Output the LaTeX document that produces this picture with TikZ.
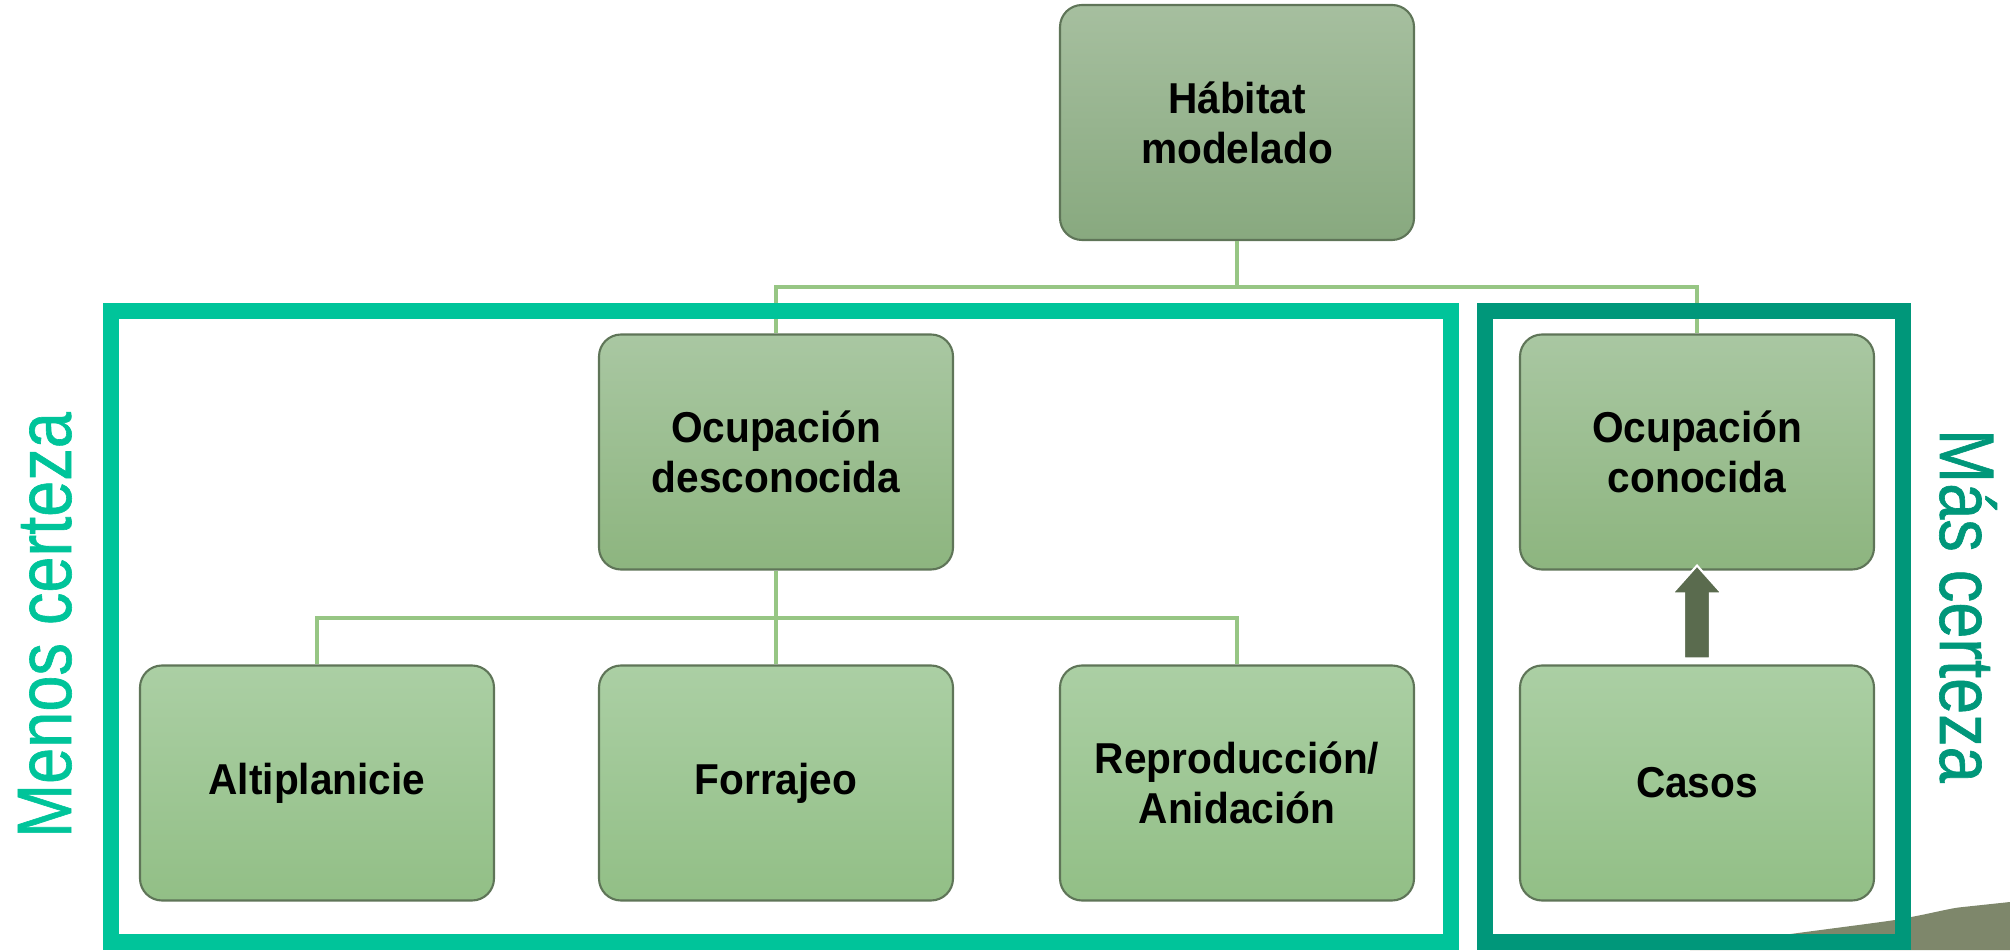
\documentclass[tikz,border=0pt]{standalone}
\usepackage{fontspec}
\setmainfont{Liberation Sans}[FakeStretch=0.94]
\newfontfamily\sidefont{Liberation Sans}[FakeStretch=0.84, FakeBold=0.8]
\usetikzlibrary{calc}

\definecolor{menos}{HTML}{00C49A}
\definecolor{mas}{HTML}{00977A}
\definecolor{boxline}{HTML}{5F7558}
\definecolor{linkc}{HTML}{97C684}
\definecolor{arrowc}{HTML}{5A6B4E}
\definecolor{swoosh}{HTML}{7E876B}

\tikzset{
  box/.style={draw=boxline, line width=0.6pt, rounded corners=0.22cm,
    minimum width=3.54cm, minimum height=2.35cm, align=center,
    font=\fontsize{12.3}{14.2}\selectfont\bfseries},
  link/.style={draw=linkc, line width=0.9pt},
  side/.style={anchor=base, font=\sidefont\fontsize{22}{26}\selectfont},
}

\begin{document}
\begin{tikzpicture}
% coordinates
\useasboundingbox (0,0) rectangle (20.1,9.5);
\coordinate (LSW) at (1.11,0.08);
\coordinate (LNE) at (14.51,6.39);
\coordinate (RSW) at (14.85,0.08);
\coordinate (RNE) at (19.03,6.39);
\coordinate (bus1) at (0,6.63);
\coordinate (bus2) at (0,3.32);

% swoosh
\fill[swoosh] (16.9,0) .. controls (17.5,0.12) and (18.4,0.22) .. (18.95,0.30)
  .. controls (19.3,0.36) and (19.5,0.42) .. (19.63,0.43) -- (20.1,0.48) -- (20.1,0) -- cycle;

% boxes
\begin{scope}[every node/.style={box}]
\node[top color={rgb,255:red,166;green,191;blue,159}, bottom color={rgb,255:red,136;green,169;blue,127}]
  (hab) at (12.37,8.275) {Hábitat\\modelado};
\begin{scope}[every node/.append style={top color={rgb,255:red,169;green,199;blue,162}, bottom color={rgb,255:red,141;green,181;blue,127}}]
\node (desc) at (7.76,4.98) {Ocupación\\desconocida};
\node (con) at (16.97,4.98) {Ocupación\\conocida};
\end{scope}
\begin{scope}[every node/.append style={top color={rgb,255:red,171;green,207;blue,164}, bottom color={rgb,255:red,146;green,191;blue,134}}]
\node (alt) at (3.17,1.67) {Altiplanicie};
\node (forr) at (7.76,1.67) {Forrajeo};
\node (rep) at (12.37,1.67) {Reproducción/\\Anidación};
\node (cas) at (16.97,1.67) {Casos};
\end{scope}
\end{scope}

% links
\draw[link] (hab.south) -- (hab.south|-bus1) -| (desc.north);
\draw[link] (hab.south|-bus1) -| (con.north);
\draw[link] (desc.south) -- (desc.south|-bus2) -| (alt.north);
\draw[link] (desc.south|-bus2) -- (forr.north);
\draw[link] (desc.south|-bus2) -| (rep.north);

% frames
\draw[menos, line width=0.16cm] (LSW) rectangle (LNE);
\draw[mas, line width=0.16cm] (RSW) rectangle (RNE);

% arrow
\coordinate (ab) at ($(cas.north)+(0,0.06)$);
\coordinate (at) at ($(con.south)+(0,0.05)$);
\filldraw[fill=arrowc, draw=white, line width=0.6pt]
  ($(ab)+(-0.13,0)$) -- ($(at)+(-0.13,-0.28)$) -- ($(at)+(-0.25,-0.28)$) -- (at)
  -- ($(at)+(0.25,-0.28)$) -- ($(at)+(0.13,-0.28)$) -- ($(ab)+(0.13,0)$) -- cycle;

% labels
\node[side, rotate=90, text=menos] (menoslbl) at (0.71,3.25) {Menos certeza};
\node[side, rotate=-90, text=mas] (maslbl) at (19.40,3.44) {Más certeza};

\end{tikzpicture}
\end{document}
